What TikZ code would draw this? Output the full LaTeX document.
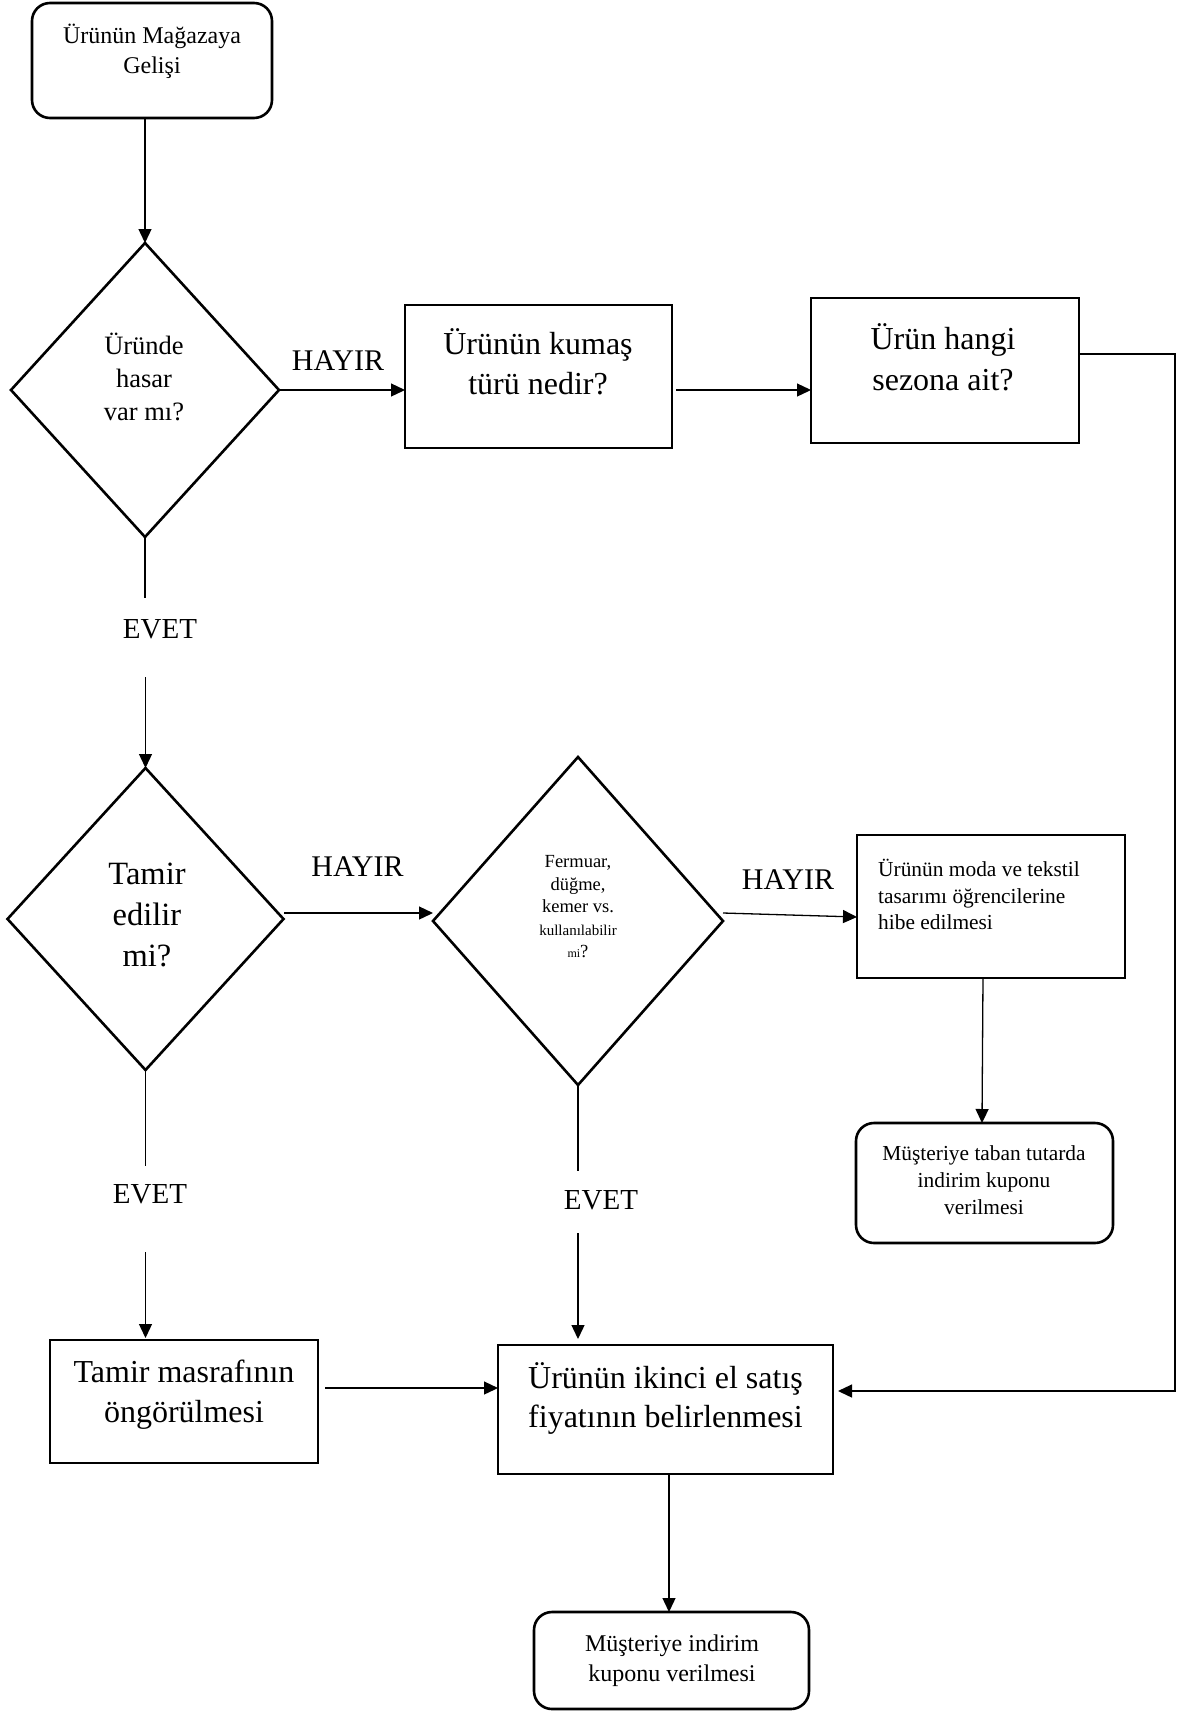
\documentclass[tikz,border=0pt]{standalone}
\usepackage{fontspec}
\setmainfont{Liberation Serif}
\usetikzlibrary{shapes.geometric,arrows.meta}

\newcommand{\fs}[2]{\fontsize{#1}{#2}\selectfont}

\tikzset{
  frame/.style={draw, line width=2.6pt, inner sep=0pt, outer sep=0pt},
  boxshape/.style={frame, rectangle},
  roundshape/.style={frame, rectangle, rounded corners=18pt},
  decision/.style={frame, diamond},
  txt/.style={inner sep=0pt, align=center},
  conn/.style={line width=1.3pt},
  arr/.style={conn, -{Triangle[length=14pt,width=13pt]}},
  noanswer/.style={inner sep=0pt, font=\fs{30}{34}},
  yesanswer/.style={inner sep=0pt, font=\fs{29}{34}}
}

\begin{document}
\begin{tikzpicture}[x=1pt, y=-1pt]
  \useasboundingbox (0,0) rectangle (1179,1711);

  % shapes
  \node[roundshape, minimum width=240pt, minimum height=115pt] (start) at (152,60.5) {};
  \node[decision, minimum width=268pt, minimum height=294pt] (d1) at (145,390) {};
  \node[boxshape, minimum width=267pt, minimum height=143pt] (fabric) at (538.5,376.5) {};
  \node[boxshape, minimum width=268pt, minimum height=145pt] (season) at (945,370.5) {};
  \node[decision, minimum width=276pt, minimum height=302pt] (d2) at (145.5,919) {};
  \node[decision, minimum width=290pt, minimum height=328pt] (d3) at (578,921) {};
  \node[boxshape, minimum width=268pt, minimum height=143pt] (grant) at (991,906.5) {};
  \node[roundshape, minimum width=257pt, minimum height=120pt] (coupon1) at (984.5,1183) {};
  \node[boxshape, minimum width=268pt, minimum height=123pt] (repair) at (184,1401.5) {};
  \node[boxshape, minimum width=335pt, minimum height=129pt] (price) at (665.5,1409.5) {};
  \node[roundshape, minimum width=275pt, minimum height=97pt] (coupon2) at (671.5,1660.5) {};

  % texts
  \node[txt, font=\fs{24}{30.5}] (tstart) at (152,51.5) {Ürünün Mağazaya\\Gelişi};
  \node[txt, font=\fs{26.5}{33}] (td1) at (144,376.5) {Üründe\\hasar\\var mı?};
  \node[txt, font=\fs{32}{39.5}] (tfabric) at (538,362) {Ürünün kumaş\\türü nedir?};
  \node[txt, font=\fs{32}{41}] (tseason) at (943,357.5) {Ürün hangi\\sezona ait?};
  \node[txt, font=\fs{32.5}{41}] (td2) at (147,915) {Tamir\\edilir\\mi?};
  \node[txt, font=\fs{18.5}{22.5}] (td3) at (578,907)
    {Fermuar,\\düğme,\\kemer vs.\\{\fs{15}{22.5}kullanılabilir}\\{\fs{12}{22.5}mi}?};
  \node[txt, align=left, anchor=west, font=\fs{21.4}{26.7}] (tgrant) at (878,894.5)
    {Ürünün moda ve tekstil\\tasarımı öğrencilerine\\hibe edilmesi};
  \node[txt, font=\fs{21.4}{26.7}] (tcoupon1) at (984,1180) {Müşteriye taban tutarda\\indirim kuponu\\verilmesi};
  \node[txt, font=\fs{32}{40}] (trepair) at (184,1395) {Tamir masrafının\\öngörülmesi};
  \node[txt, font=\fs{32}{39.5}] (tprice) at (665.5,1398.5) {Ürünün ikinci el satış\\fiyatının belirlenmesi};
  \node[txt, font=\fs{24}{29.5}] (tcoupon2) at (672,1660.5) {Müşteriye indirim\\kuponu verilmesi};

  % answer labels
  \node[noanswer] (no1) at (338,361) {HAYIR};
  \node[noanswer] (no2) at (357.5,867) {HAYIR};
  \node[noanswer] (no3) at (788,880) {HAYIR};
  \node[yesanswer] (yes1) at (160,629) {EVET};
  \node[yesanswer] (yes2) at (150,1194) {EVET};
  \node[yesanswer] (yes3) at (601,1200) {EVET};

  % bend and break points of the connectors
  \coordinate (fabricout) at (676,390);
  \coordinate (rtop) at (1175,354);
  \coordinate (rbot) at (1175,1391);
  \coordinate (pricein) at (838,1391);
  \coordinate (y1a) at (145,598);
  \coordinate (y1b) at (145.5,677);
  \coordinate (d2out) at (284,913);
  \coordinate (d3in) at (433,913);
  \coordinate (d3out) at (723,913);
  \coordinate (grantin) at (857,917);
  \coordinate (grantout) at (983,978);
  \coordinate (coupon1in) at (982,1123);
  \coordinate (y2a) at (145.5,1166);
  \coordinate (y2b) at (145.5,1252);
  \coordinate (repairin) at (145.5,1338);
  \coordinate (y3a) at (578,1171);
  \coordinate (y3b) at (578,1233);
  \coordinate (pricetop) at (578,1339);
  \coordinate (repairout) at (325,1388);
  \coordinate (priceout) at (669,1475);
  \coordinate (coupon2in) at (669,1612);

  % connectors
  \draw[arr] (d1.north |- start.south) -- (d1.north);
  \draw[arr] (d1.east) -- (d1.east -| fabric.west);
  \draw[arr] (fabricout) -- (fabricout -| season.west);
  \draw[arr] (season.east |- rtop) -- (rtop) -- (rbot) -- (pricein);
  \draw[conn] (d1.south) -- (y1a);
  \draw[arr] (y1b) -- (d2.north);
  \draw[arr] (d2out) -- (d3in);
  \draw[arr] (d3out) -- (grantin);
  \draw[arr] (grantout) -- (coupon1in);
  \draw[conn] (d2.south) -- (y2a);
  \draw[arr] (y2b) -- (repairin);
  \draw[conn] (d3.south) -- (y3a);
  \draw[arr] (y3b) -- (pricetop);
  \draw[arr] (repairout) -- (repairout -| price.west);
  \draw[arr] (priceout) -- (coupon2in);
\end{tikzpicture}
\end{document}
